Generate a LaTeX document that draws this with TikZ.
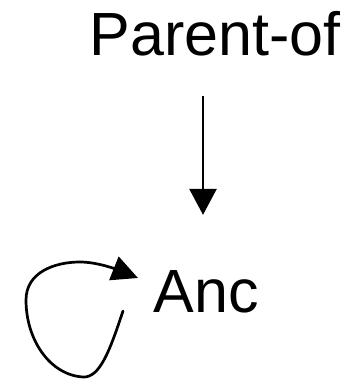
\documentclass[tikz,border=0pt]{standalone}
\usepackage{fontspec}
\setmainfont{Liberation Sans}
\usetikzlibrary{arrows.meta}

\begin{document}
\begin{tikzpicture}[x=1pt,y=-1pt,
    lbl/.style={font=\fontsize{61}{73}\selectfont, inner sep=0pt, anchor=base},
    arr/.style={line width=2.7pt, -{Triangle[length=26pt,width=27pt]}},
    looparr/.style={line width=2.7pt, line cap=round, -{Triangle[length=26pt,width=25pt]}}]
    \useasboundingbox (0,0) rectangle (354,380);
    \node[lbl] (parent) at (215,55) {Parent-of};
    \node[lbl] (anc) at (206,312) {Anc};
    % relation arrow
    \draw[arr] ([xshift=-12pt,yshift=-40pt]parent.south) -- ([xshift=-3pt,yshift=55pt]anc.north);
    % recursive loop into Anc
    \coordinate (loopstart) at (123,311);
    \draw[looparr] (loopstart) .. controls (110,350) and (100,378) .. (83,377)
        .. controls (50,375) and (26,340) .. (26,300)
        .. controls (26,272) and (55,262) .. (80,262)
        .. controls (98,262) and (118,270) .. (138,278);
\end{tikzpicture}
\end{document}
